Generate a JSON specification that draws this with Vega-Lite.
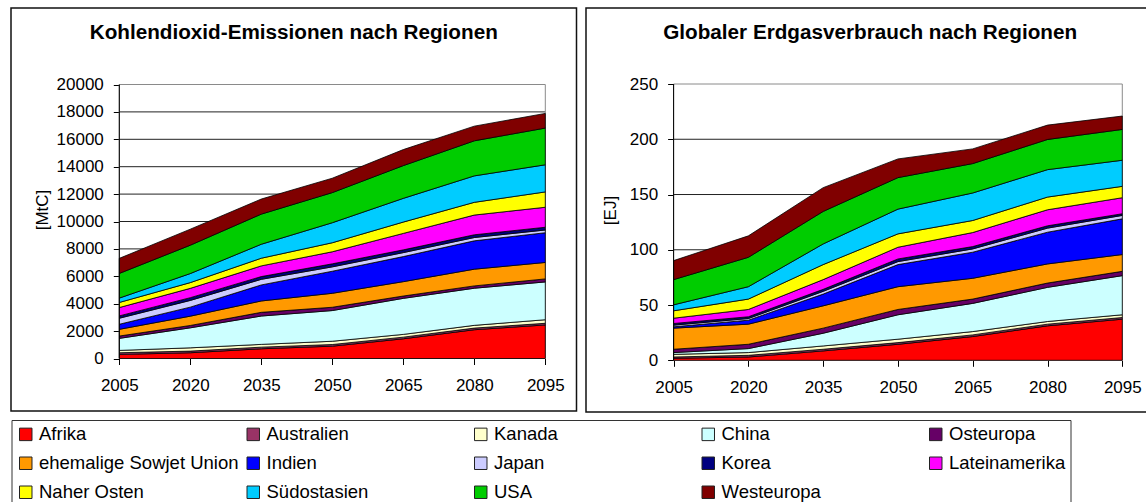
{
  "$schema": "https://vega.github.io/schema/vega-lite/v6.json",
  "padding": {"left": 10, "top": 7, "right": 0, "bottom": 0},
  "background": "white",
  "spacing": 7,
  "datasets": {
    "co2": [
      {"year": 2005, "region": "Afrika", "mtc": 300}, {"year": 2020, "region": "Afrika", "mtc": 420}, {"year": 2035, "region": "Afrika", "mtc": 710}, {"year": 2050, "region": "Afrika", "mtc": 900}, {"year": 2065, "region": "Afrika", "mtc": 1440}, {"year": 2080, "region": "Afrika", "mtc": 2100}, {"year": 2095, "region": "Afrika", "mtc": 2450},
      {"year": 2005, "region": "Australien", "mtc": 120}, {"year": 2020, "region": "Australien", "mtc": 120}, {"year": 2035, "region": "Australien", "mtc": 120}, {"year": 2050, "region": "Australien", "mtc": 120}, {"year": 2065, "region": "Australien", "mtc": 120}, {"year": 2080, "region": "Australien", "mtc": 120}, {"year": 2095, "region": "Australien", "mtc": 120},
      {"year": 2005, "region": "Kanada", "mtc": 170}, {"year": 2020, "region": "Kanada", "mtc": 240}, {"year": 2035, "region": "Kanada", "mtc": 200}, {"year": 2050, "region": "Kanada", "mtc": 240}, {"year": 2065, "region": "Kanada", "mtc": 200}, {"year": 2080, "region": "Kanada", "mtc": 200}, {"year": 2095, "region": "Kanada", "mtc": 260},
      {"year": 2005, "region": "China", "mtc": 880}, {"year": 2020, "region": "China", "mtc": 1460}, {"year": 2035, "region": "China", "mtc": 2070}, {"year": 2050, "region": "China", "mtc": 2240}, {"year": 2065, "region": "China", "mtc": 2630}, {"year": 2080, "region": "China", "mtc": 2710}, {"year": 2095, "region": "China", "mtc": 2760},
      {"year": 2005, "region": "Osteuropa", "mtc": 170}, {"year": 2020, "region": "Osteuropa", "mtc": 170}, {"year": 2035, "region": "Osteuropa", "mtc": 270}, {"year": 2050, "region": "Osteuropa", "mtc": 240}, {"year": 2065, "region": "Osteuropa", "mtc": 170}, {"year": 2080, "region": "Osteuropa", "mtc": 170}, {"year": 2095, "region": "Osteuropa", "mtc": 220},
      {"year": 2005, "region": "ehemalige Sowjet Union", "mtc": 490}, {"year": 2020, "region": "ehemalige Sowjet Union", "mtc": 680}, {"year": 2035, "region": "ehemalige Sowjet Union", "mtc": 830}, {"year": 2050, "region": "ehemalige Sowjet Union", "mtc": 1020}, {"year": 2065, "region": "ehemalige Sowjet Union", "mtc": 1050}, {"year": 2080, "region": "ehemalige Sowjet Union", "mtc": 1220}, {"year": 2095, "region": "ehemalige Sowjet Union", "mtc": 1200},
      {"year": 2005, "region": "Indien", "mtc": 370}, {"year": 2020, "region": "Indien", "mtc": 660}, {"year": 2035, "region": "Indien", "mtc": 1170}, {"year": 2050, "region": "Indien", "mtc": 1610}, {"year": 2065, "region": "Indien", "mtc": 1830}, {"year": 2080, "region": "Indien", "mtc": 2070}, {"year": 2095, "region": "Indien", "mtc": 2170},
      {"year": 2005, "region": "Japan", "mtc": 440}, {"year": 2020, "region": "Japan", "mtc": 490}, {"year": 2035, "region": "Japan", "mtc": 410}, {"year": 2050, "region": "Japan", "mtc": 320}, {"year": 2065, "region": "Japan", "mtc": 290}, {"year": 2080, "region": "Japan", "mtc": 240}, {"year": 2095, "region": "Japan", "mtc": 200},
      {"year": 2005, "region": "Korea", "mtc": 170}, {"year": 2020, "region": "Korea", "mtc": 200}, {"year": 2035, "region": "Korea", "mtc": 200}, {"year": 2050, "region": "Korea", "mtc": 220}, {"year": 2065, "region": "Korea", "mtc": 200}, {"year": 2080, "region": "Korea", "mtc": 200}, {"year": 2095, "region": "Korea", "mtc": 200},
      {"year": 2005, "region": "Lateinamerika", "mtc": 610}, {"year": 2020, "region": "Lateinamerika", "mtc": 680}, {"year": 2035, "region": "Lateinamerika", "mtc": 780}, {"year": 2050, "region": "Lateinamerika", "mtc": 880}, {"year": 2065, "region": "Lateinamerika", "mtc": 1200}, {"year": 2080, "region": "Lateinamerika", "mtc": 1440}, {"year": 2095, "region": "Lateinamerika", "mtc": 1460},
      {"year": 2005, "region": "Naher Osten", "mtc": 370}, {"year": 2020, "region": "Naher Osten", "mtc": 420}, {"year": 2035, "region": "Naher Osten", "mtc": 560}, {"year": 2050, "region": "Naher Osten", "mtc": 660}, {"year": 2065, "region": "Naher Osten", "mtc": 830}, {"year": 2080, "region": "Naher Osten", "mtc": 930}, {"year": 2095, "region": "Naher Osten", "mtc": 1120},
      {"year": 2005, "region": "Südostasien", "mtc": 320}, {"year": 2020, "region": "Südostasien", "mtc": 660}, {"year": 2035, "region": "Südostasien", "mtc": 1020}, {"year": 2050, "region": "Südostasien", "mtc": 1460}, {"year": 2065, "region": "Südostasien", "mtc": 1730}, {"year": 2080, "region": "Südostasien", "mtc": 1930}, {"year": 2095, "region": "Südostasien", "mtc": 1980},
      {"year": 2005, "region": "USA", "mtc": 1800}, {"year": 2020, "region": "USA", "mtc": 2070}, {"year": 2035, "region": "USA", "mtc": 2200}, {"year": 2050, "region": "USA", "mtc": 2200}, {"year": 2065, "region": "USA", "mtc": 2390}, {"year": 2080, "region": "USA", "mtc": 2560}, {"year": 2095, "region": "USA", "mtc": 2680},
      {"year": 2005, "region": "Westeuropa", "mtc": 1100}, {"year": 2020, "region": "Westeuropa", "mtc": 1170}, {"year": 2035, "region": "Westeuropa", "mtc": 1100}, {"year": 2050, "region": "Westeuropa", "mtc": 1050}, {"year": 2065, "region": "Westeuropa", "mtc": 1170}, {"year": 2080, "region": "Westeuropa", "mtc": 1070}, {"year": 2095, "region": "Westeuropa", "mtc": 1070}
    ],
    "gas": [
      {"year": 2005, "region": "Afrika", "ej": 1.8}, {"year": 2020, "region": "Afrika", "ej": 3.0}, {"year": 2035, "region": "Afrika", "ej": 8.5}, {"year": 2050, "region": "Afrika", "ej": 14.5}, {"year": 2065, "region": "Afrika", "ej": 21.5}, {"year": 2080, "region": "Afrika", "ej": 31.2}, {"year": 2095, "region": "Afrika", "ej": 37.2},
      {"year": 2005, "region": "Australien", "ej": 1.2}, {"year": 2020, "region": "Australien", "ej": 1.5}, {"year": 2035, "region": "Australien", "ej": 1.5}, {"year": 2050, "region": "Australien", "ej": 1.5}, {"year": 2065, "region": "Australien", "ej": 1.5}, {"year": 2080, "region": "Australien", "ej": 1.5}, {"year": 2095, "region": "Australien", "ej": 1.5},
      {"year": 2005, "region": "Kanada", "ej": 2.4}, {"year": 2020, "region": "Kanada", "ej": 2.5}, {"year": 2035, "region": "Kanada", "ej": 3.0}, {"year": 2050, "region": "Kanada", "ej": 3.1}, {"year": 2065, "region": "Kanada", "ej": 3.0}, {"year": 2080, "region": "Kanada", "ej": 2.4}, {"year": 2095, "region": "Kanada", "ej": 2.5},
      {"year": 2005, "region": "China", "ej": 1.6}, {"year": 2020, "region": "China", "ej": 3.6}, {"year": 2035, "region": "China", "ej": 11.5}, {"year": 2050, "region": "China", "ej": 22.1}, {"year": 2065, "region": "China", "ej": 25.5}, {"year": 2080, "region": "China", "ej": 30.9}, {"year": 2095, "region": "China", "ej": 35.4},
      {"year": 2005, "region": "Osteuropa", "ej": 3.0}, {"year": 2020, "region": "Osteuropa", "ej": 3.9}, {"year": 2035, "region": "Osteuropa", "ej": 4.6}, {"year": 2050, "region": "Osteuropa", "ej": 4.8}, {"year": 2065, "region": "Osteuropa", "ej": 3.9}, {"year": 2080, "region": "Osteuropa", "ej": 3.9}, {"year": 2095, "region": "Osteuropa", "ej": 3.9},
      {"year": 2005, "region": "ehemalige Sowjet Union", "ej": 19.1}, {"year": 2020, "region": "ehemalige Sowjet Union", "ej": 18.2}, {"year": 2035, "region": "ehemalige Sowjet Union", "ej": 20.2}, {"year": 2050, "region": "ehemalige Sowjet Union", "ej": 20.6}, {"year": 2065, "region": "ehemalige Sowjet Union", "ej": 18.8}, {"year": 2080, "region": "ehemalige Sowjet Union", "ej": 17.3}, {"year": 2095, "region": "ehemalige Sowjet Union", "ej": 15.2},
      {"year": 2005, "region": "Indien", "ej": 1.2}, {"year": 2020, "region": "Indien", "ej": 3.6}, {"year": 2035, "region": "Indien", "ej": 10.6}, {"year": 2050, "region": "Indien", "ej": 20.0}, {"year": 2065, "region": "Indien", "ej": 23.6}, {"year": 2080, "region": "Indien", "ej": 28.7}, {"year": 2095, "region": "Indien", "ej": 32.3},
      {"year": 2005, "region": "Japan", "ej": 1.5}, {"year": 2020, "region": "Japan", "ej": 1.5}, {"year": 2035, "region": "Japan", "ej": 2.5}, {"year": 2050, "region": "Japan", "ej": 2.7}, {"year": 2065, "region": "Japan", "ej": 3.0}, {"year": 2080, "region": "Japan", "ej": 3.7}, {"year": 2095, "region": "Japan", "ej": 3.1},
      {"year": 2005, "region": "Korea", "ej": 1.5}, {"year": 2020, "region": "Korea", "ej": 1.6}, {"year": 2035, "region": "Korea", "ej": 1.8}, {"year": 2050, "region": "Korea", "ej": 2.4}, {"year": 2065, "region": "Korea", "ej": 2.1}, {"year": 2080, "region": "Korea", "ej": 2.1}, {"year": 2095, "region": "Korea", "ej": 1.5},
      {"year": 2005, "region": "Lateinamerika", "ej": 4.8}, {"year": 2020, "region": "Lateinamerika", "ej": 6.6}, {"year": 2035, "region": "Lateinamerika", "ej": 8.8}, {"year": 2050, "region": "Lateinamerika", "ej": 10.6}, {"year": 2065, "region": "Lateinamerika", "ej": 12.7}, {"year": 2080, "region": "Lateinamerika", "ej": 14.5}, {"year": 2095, "region": "Lateinamerika", "ej": 14.5},
      {"year": 2005, "region": "Naher Osten", "ej": 6.7}, {"year": 2020, "region": "Naher Osten", "ej": 9.4}, {"year": 2035, "region": "Naher Osten", "ej": 13.6}, {"year": 2050, "region": "Naher Osten", "ej": 12.1}, {"year": 2065, "region": "Naher Osten", "ej": 10.9}, {"year": 2080, "region": "Naher Osten", "ej": 11.5}, {"year": 2095, "region": "Naher Osten", "ej": 10.3},
      {"year": 2005, "region": "Südostasien", "ej": 5.4}, {"year": 2020, "region": "Südostasien", "ej": 11.2}, {"year": 2035, "region": "Südostasien", "ej": 18.7}, {"year": 2050, "region": "Südostasien", "ej": 22.4}, {"year": 2065, "region": "Südostasien", "ej": 24.9}, {"year": 2080, "region": "Südostasien", "ej": 24.8}, {"year": 2095, "region": "Südostasien", "ej": 23.6},
      {"year": 2005, "region": "USA", "ej": 22.8}, {"year": 2020, "region": "USA", "ej": 26.6}, {"year": 2035, "region": "USA", "ej": 29.4}, {"year": 2050, "region": "USA", "ej": 28.5}, {"year": 2065, "region": "USA", "ej": 26.6}, {"year": 2080, "region": "USA", "ej": 27.3}, {"year": 2095, "region": "USA", "ej": 27.9},
      {"year": 2005, "region": "Westeuropa", "ej": 17.2}, {"year": 2020, "region": "Westeuropa", "ej": 19.4}, {"year": 2035, "region": "Westeuropa", "ej": 21.5}, {"year": 2050, "region": "Westeuropa", "ej": 16.9}, {"year": 2065, "region": "Westeuropa", "ej": 13.3}, {"year": 2080, "region": "Westeuropa", "ej": 13.0}, {"year": 2095, "region": "Westeuropa", "ej": 12.1}
    ]
  },
  "hconcat": [
    {
      "width": 565.5,
      "height": 403,
      "title": {"text": "Kohlendioxid-Emissionen nach Regionen", "offset": -52, "baseline": "alphabetic"},
      "layer": [
        {
          "data": {"values": [{"v": 2000}, {"v": 4000}, {"v": 6000}, {"v": 8000}, {"v": 10000}, {"v": 12000}, {"v": 14000}, {"v": 16000}, {"v": 18000}]},
          "mark": {"type": "rule", "color": "#222", "strokeWidth": 1},
          "encoding": {
            "x": {"datum": 2005, "type": "quantitative"},
            "x2": {"datum": 2095},
            "y": {"field": "v", "type": "quantitative"}
          }
        },
        {
          "data": {"values": [{}]},
          "mark": {"type": "rect", "fill": null, "stroke": "#8a8a8a", "strokeWidth": 1},
          "encoding": {
            "x": {"datum": 2005, "type": "quantitative"},
            "x2": {"datum": 2095},
            "y": {"datum": 0, "type": "quantitative"},
            "y2": {"datum": 20000}
          }
        },
        {
          "data": {"name": "co2"},
          "transform": [
            {"calculate": "indexof(['Afrika', 'Australien', 'Kanada', 'China', 'Osteuropa', 'ehemalige Sowjet Union', 'Indien', 'Japan', 'Korea', 'Lateinamerika', 'Naher Osten', 'Südostasien', 'USA', 'Westeuropa'], datum.region)", "as": "stackRank"}
          ],
          "mark": {"type": "area", "stroke": "black", "strokeWidth": 0.8, "opacity": 1},
          "encoding": {
            "x": {
              "field": "year", "type": "quantitative",
              "scale": {"domain": [1982.12, 2101.59], "nice": false, "zero": false},
              "axis": {"values": [2005, 2020, 2035, 2050, 2065, 2080, 2095], "format": "d", "offset": -52.5, "title": null, "labelPadding": 13}
            },
            "y": {
              "field": "mtc", "type": "quantitative", "stack": "zero",
              "scale": {"domain": [-3832, 25584], "nice": false, "zero": false},
              "axis": {"values": [0, 2000, 4000, 6000, 8000, 10000, 12000, 14000, 16000, 18000, 20000], "format": "d", "offset": -108.3, "title": "[MtC]", "titlePadding": 5, "labelPadding": 10}
            },
            "order": {"field": "stackRank", "type": "quantitative", "sort": "ascending"},
            "color": {
              "field": "region", "type": "nominal",
              "scale": {
                "domain": ["Afrika", "Australien", "Kanada", "China", "Osteuropa", "ehemalige Sowjet Union", "Indien", "Japan", "Korea", "Lateinamerika", "Naher Osten", "Südostasien", "USA", "Westeuropa"],
                "range": ["#FF0000", "#993366", "#FFFFCC", "#CCFFFF", "#660066", "#FF9900", "#0000FF", "#CCCCFF", "#000080", "#FF00FF", "#FFFF00", "#00CCFF", "#00CC00", "#800000"]
              },
              "legend": {
                "orient": "none", "legendX": 0.5, "legendY": 412, "columns": 5, "direction": "horizontal",
                "values": ["Afrika", "Australien", "Kanada", "China", "Osteuropa", "ehemalige Sowjet Union", "Indien", "Japan", "Korea", "Lateinamerika", "Naher Osten", "Südostasien", "USA", "Westeuropa"]
              }
            }
          }
        },
        {
          "data": {"values": [{}]},
          "mark": {"type": "rule", "color": "black", "strokeWidth": 1},
          "encoding": {
            "x": {"datum": 2005, "type": "quantitative"},
            "y": {"datum": 0, "type": "quantitative"},
            "y2": {"datum": 20000}
          }
        }
      ]
    },
    {
      "width": 568.3,
      "height": 404,
      "title": {"text": "Globaler Erdgasverbrauch nach Regionen", "offset": -52, "baseline": "alphabetic"},
      "layer": [
        {
          "data": {"values": [{"v": 50}, {"v": 100}, {"v": 150}, {"v": 200}]},
          "mark": {"type": "rule", "color": "#222", "strokeWidth": 1},
          "encoding": {
            "x": {"datum": 2005, "type": "quantitative"},
            "x2": {"datum": 2095},
            "y": {"field": "v", "type": "quantitative"}
          }
        },
        {
          "data": {"values": [{}]},
          "mark": {"type": "rect", "fill": null, "stroke": "#8a8a8a", "strokeWidth": 1},
          "encoding": {
            "x": {"datum": 2005, "type": "quantitative"},
            "x2": {"datum": 2095},
            "y": {"datum": 0, "type": "quantitative"},
            "y2": {"datum": 250}
          }
        },
        {
          "data": {"name": "gas"},
          "transform": [
            {"calculate": "indexof(['Afrika', 'Australien', 'Kanada', 'China', 'Osteuropa', 'ehemalige Sowjet Union', 'Indien', 'Japan', 'Korea', 'Lateinamerika', 'Naher Osten', 'Südostasien', 'USA', 'Westeuropa'], datum.region)", "as": "stackRank"}
          ],
          "mark": {"type": "area", "stroke": "black", "strokeWidth": 0.8, "opacity": 1},
          "encoding": {
            "x": {
              "field": "year", "type": "quantitative",
              "scale": {"domain": [1987.43, 2101.42], "nice": false, "zero": false},
              "axis": {"values": [2005, 2020, 2035, 2050, 2065, 2080, 2095], "format": "d", "offset": -51.7, "title": null, "labelPadding": 13}
            },
            "y": {
              "field": "ej", "type": "quantitative", "stack": "zero",
              "scale": {"domain": [-46.78, 318.77], "nice": false, "zero": false},
              "axis": {"values": [0, 50, 100, 150, 200, 250], "format": "d", "offset": -87.6, "title": "[EJ]", "titlePadding": 10, "labelPadding": 10}
            },
            "order": {"field": "stackRank", "type": "quantitative", "sort": "ascending"},
            "color": {
              "field": "region", "type": "nominal",
              "scale": {
                "domain": ["Afrika", "Australien", "Kanada", "China", "Osteuropa", "ehemalige Sowjet Union", "Indien", "Japan", "Korea", "Lateinamerika", "Naher Osten", "Südostasien", "USA", "Westeuropa"],
                "range": ["#FF0000", "#993366", "#FFFFCC", "#CCFFFF", "#660066", "#FF9900", "#0000FF", "#CCCCFF", "#000080", "#FF00FF", "#FFFF00", "#00CCFF", "#00CC00", "#800000"]
              },
              "legend": {
                "orient": "none", "legendX": 0.5, "legendY": 412, "columns": 5, "direction": "horizontal",
                "values": ["Afrika", "Australien", "Kanada", "China", "Osteuropa", "ehemalige Sowjet Union", "Indien", "Japan", "Korea", "Lateinamerika", "Naher Osten", "Südostasien", "USA", "Westeuropa"]
              }
            }
          }
        },
        {
          "data": {"values": [{}]},
          "mark": {"type": "rule", "color": "black", "strokeWidth": 1},
          "encoding": {
            "x": {"datum": 2005, "type": "quantitative"},
            "y": {"datum": 0, "type": "quantitative"},
            "y2": {"datum": 250}
          }
        }
      ]
    }
  ],
  "config": {
    "font": "Liberation Sans",
    "view": {"stroke": "#111", "strokeWidth": 1.5},
    "title": {"font": "Liberation Sans", "fontSize": 20.7, "fontWeight": "bold", "color": "black", "anchor": "middle", "frame": "group"},
    "axis": {
      "labelFont": "Liberation Sans", "labelFontSize": 17, "labelColor": "black",
      "titleFont": "Liberation Sans", "titleFontSize": 17, "titleFontWeight": "normal", "titleColor": "black",
      "domain": false, "grid": false, "ticks": true, "tickSize": 6, "tickColor": "black", "tickWidth": 1
    },
    "legend": {
      "title": null, "gridAlign": "all", "columnPadding": 4.5, "rowPadding": 10, "padding": 5,
      "strokeColor": "#333",
      "symbolType": "square", "symbolSize": 156, "symbolStrokeColor": "#222", "symbolStrokeWidth": 1,
      "symbolFillOpacity": 1, "symbolOpacity": 1,
      "labelFont": "Liberation Sans", "labelFontSize": 18.5, "labelColor": "black", "labelOffset": 4, "labelLimit": 400
    }
  }
}
